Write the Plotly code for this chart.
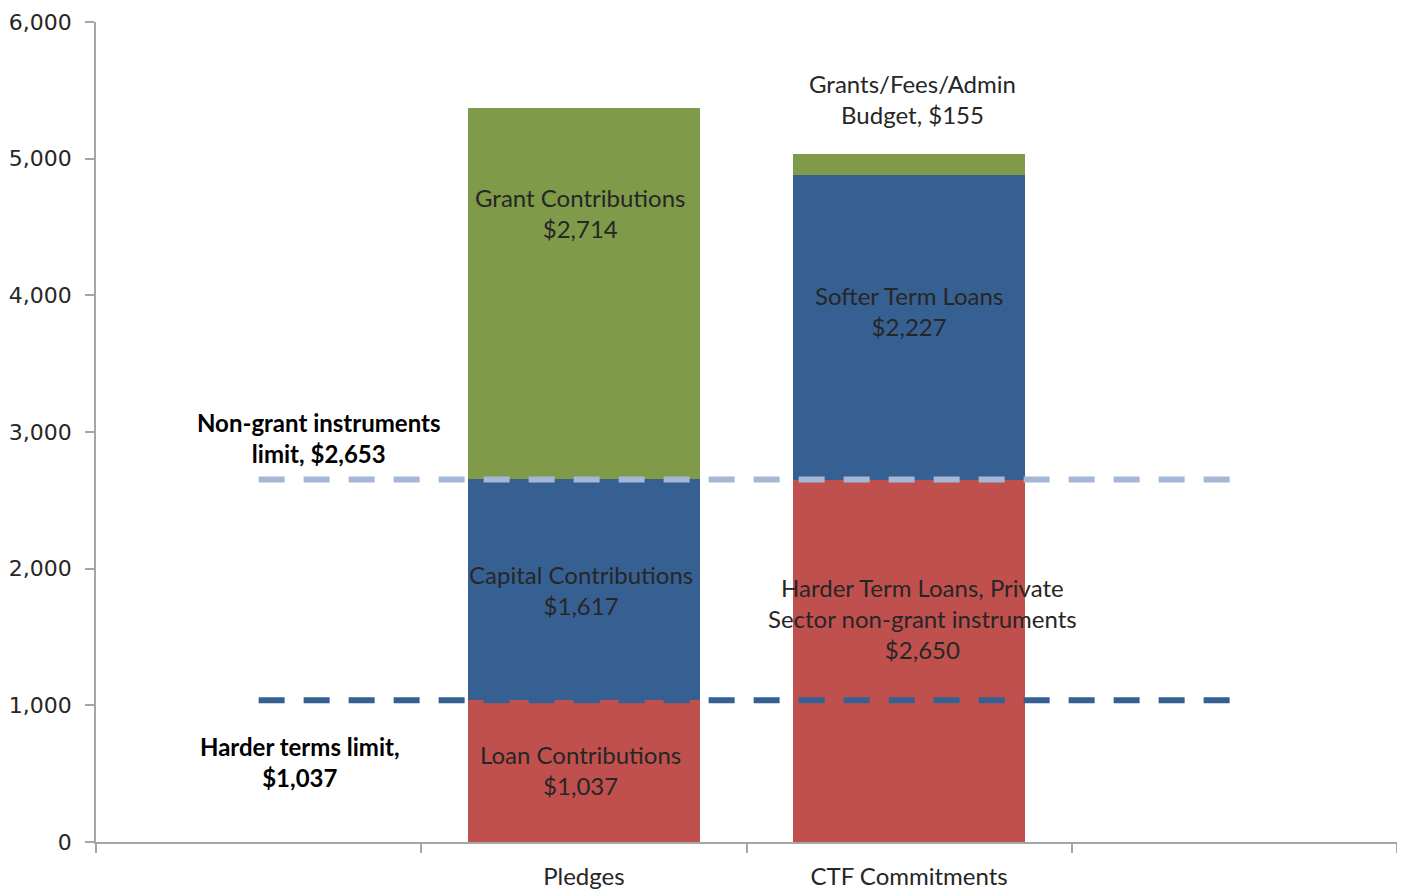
import plotly.graph_objects as go

# ---- data ----
categories = ["Pledges", "CTF Commitments"]
harder_loans = [1037, 2650]      # red
capital_softer = [1617, 2227]    # blue
grants = [2714, 155]             # green

seg_labels_pledges = ["Loan Contributions<br>$1,037", "Capital Contributions<br>$1,617", "Grant Contributions<br>$2,714"]
seg_labels_ctf = ["Harder Term Loans, Private<br>Sector non-grant instruments<br>$2,650", "Softer Term Loans<br>$2,227", "Grants/Fees/Admin<br>Budget, $155"]

limit_nongrant = 2653
limit_harder = 1037
limit_x = [0, 3]   # span of the limit lines (first to last slot centre)

y_ticks = [0, 1000, 2000, 3000, 4000, 5000, 6000]

# ---- styles ----
RED = "#C0504D"
BLUE = "#376092"
GREEN = "#7F9A48"
LIGHT = "#A5B6D6"
TEXT = "#262626"
FONT = "Lato"
FS = 24

xpos = [i + 1 for i in range(len(categories))]

fig = go.Figure()
for vals, col in [(harder_loans, RED), (capital_softer, BLUE), (grants, GREEN)]:
    fig.add_trace(go.Bar(x=xpos, y=vals, marker=dict(color=col, line=dict(width=0)),
                         hoverinfo="skip", showlegend=False))

fig.add_trace(go.Scatter(x=limit_x, y=[limit_nongrant] * 2, mode="lines",
                         line=dict(color=LIGHT, width=6, dash="26px,19px"),
                         hoverinfo="skip", showlegend=False))
fig.add_trace(go.Scatter(x=limit_x, y=[limit_harder] * 2, mode="lines",
                         line=dict(color=BLUE, width=6, dash="26px,19px"),
                         hoverinfo="skip", showlegend=False))

ann = []
def add(x, y, text, bold=False, size=FS):
    ann.append(dict(x=x, y=y, xref="x", yref="y", text=(f"<b>{text}</b>" if bold else text),
                    showarrow=False, font=dict(family=FONT, size=size, color="#000000" if bold else TEXT),
                    align="center", xanchor="center", yanchor="middle"))

# Pledges segment labels
add(0.99, harder_loans[0] / 2 + 10, seg_labels_pledges[0])
add(0.99, harder_loans[0] + capital_softer[0] / 2, seg_labels_pledges[1])
add(0.99, 4602, seg_labels_pledges[2])
# CTF segment labels
add(2.04, 1639, seg_labels_ctf[0])
add(2.00, 3885, seg_labels_ctf[1])
add(2.01, 5436, seg_labels_ctf[2])
# limit labels
add(0.185, 2956, f"Non-grant instruments<br>limit, ${limit_nongrant:,}", bold=True)
add(0.127, 585, f"Harder terms limit,<br>${limit_harder:,}", bold=True)
fig.update_layout(annotations=ann)

fig.update_layout(
    width=1398, height=883,
    margin=dict(l=88, r=9, t=14, b=49, autoexpand=False),
    paper_bgcolor="white", plot_bgcolor="white",
    barmode="stack", bargap=0.287,
    font=dict(family="DejaVu Sans", color=TEXT),
    xaxis=dict(range=[-0.5, 3.5], tickmode="array", tickvals=xpos, ticktext=categories,
               ticks="", showgrid=False, zeroline=False, showline=True, automargin=False,
               linecolor="#A6A6A6", linewidth=1.5, ticklabelstandoff=12,
               tickfont=dict(family=FONT, size=FS, color=TEXT),
               minor=dict(tickmode="linear", tick0=-0.5, dtick=1, ticks="outside",
                          ticklen=9, tickcolor="#A6A6A6", tickwidth=1.5, showgrid=False)),
    yaxis=dict(range=[0, 6000], tickmode="array", tickvals=y_ticks, tickformat=",",
               ticks="outside", ticklen=9, tickcolor="#A6A6A6", tickwidth=1.5, automargin=False,
               showgrid=False, zeroline=False, showline=True, linecolor="#A6A6A6", linewidth=1.5,
               ticklabelstandoff=9,
               tickfont=dict(family="DejaVu Sans", size=22, color=TEXT)),
)

fig.write_html("out.html")
